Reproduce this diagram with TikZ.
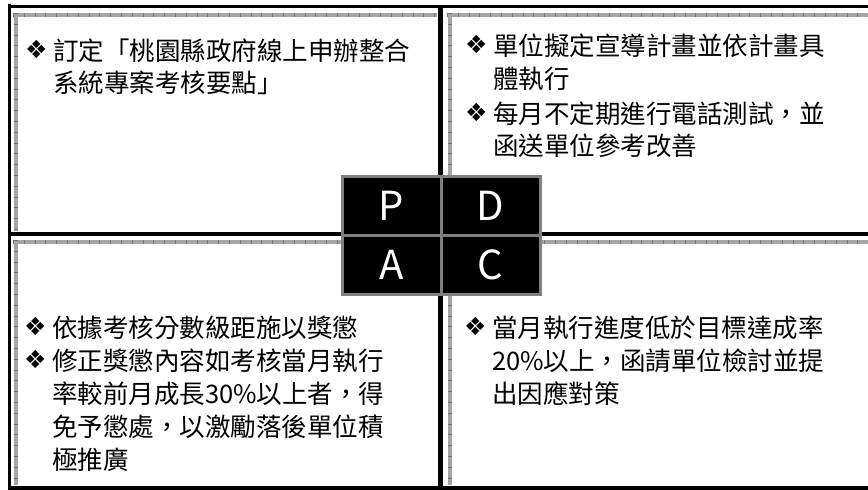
\documentclass[tikz,border=0pt]{standalone}
\usepackage{fontspec}
\setmainfont{Noto Sans CJK TC}
\newfontfamily\symfont{DejaVu Sans}
\definecolor{stripgray}{RGB}{165,165,165}
\definecolor{tickgray}{RGB}{115,115,115}
\definecolor{cellgray}{RGB}{128,128,128}
\tikzset{
  frameline/.style={line width=4.5pt, black},
  strip/.style={line width=4pt, stripgray},
  stripticks/.style={line width=4pt, tickgray, dash pattern=on 0.8pt off 10pt},
  cell/.style={draw=cellgray, line width=3pt, fill=black, minimum width=99pt, minimum height=59pt, inner sep=0pt, text=white, font=\fontsize{40}{40}\selectfont},
  txt/.style={anchor=base west, inner sep=0pt, font=\fontsize{25.5}{32}\selectfont},
  bul/.style={anchor=base west, inner sep=0pt, font=\symfont\fontsize{25}{25}\selectfont}
}
\begin{document}
\begin{tikzpicture}[x=1pt,y=-1pt]
\useasboundingbox (0,0) rectangle (868,490);
% frame coordinates
\coordinate (tlc) at (8,6);
\coordinate (trc) at (868,6);
\coordinate (mlc) at (8,234);
\coordinate (mrc) at (868,234);
\coordinate (blc) at (8,488);
\coordinate (brc) at (868,488);
\coordinate (mt) at (440.5,5);
\coordinate (mb) at (440.5,490);
\coordinate (lt) at (9.5,4);
\coordinate (lb) at (9.5,490);
% gray strips
\foreach \y in {14.5,242}{
  \draw[strip] (13,\y) -- (437,\y);
  \draw[stripticks] (13,\y) -- (437,\y);
  \draw[strip] (447,\y) -- (868,\y);
  \draw[stripticks] (447,\y) -- (868,\y);
}
\foreach \x in {15.5,449.5}{
  \draw[strip] (\x,13) -- (\x,231);
  \draw[stripticks] (\x,13) -- (\x,231);
  \draw[strip] (\x,240) -- (\x,485);
  \draw[stripticks] (\x,240) -- (\x,485);
}
% black frame
\draw[line width=3pt] (tlc) -- (trc);
\draw[frameline] (mlc) -- (mrc);
\draw[frameline] (blc) -- (brc);
\draw[line width=3.5pt] (lt) -- (lb);
\draw[frameline] (mt) -- (mb);
% PDCA
\node[cell] (p) at (391.5,205.5) {P};
\node[cell] (d) at (490.5,205.5) {D};
\node[cell] (a) at (391.5,264.5) {A};
\node[cell] (c) at (490.5,264.5) {C};
% top-left text
\node[bul] (tlb1) at (25,58) {❖};
\node[txt] (tl1) at (53,60) {訂定「桃園縣政府線上申辦整合};
\node[txt] (tl2) at (53,92) {系統專案考核要點」};
% top-right text
\node[bul] (trb1) at (465,53) {❖};
\node[txt] (tr1) at (493,55) {單位擬定宣導計畫並依計畫具};
\node[txt] (tr2) at (493,88) {體執行};
\node[bul] (trb2) at (465,121) {❖};
\node[txt] (tr3) at (493,123) {每月不定期進行電話測試，並};
\node[txt] (tr4) at (493,155) {函送單位參考改善};
% bottom-left text
\node[bul] (blb1) at (24,335) {❖};
\node[txt] (bl1) at (52,337) {依據考核分數級距施以獎懲};
\node[bul] (blb2) at (24,368) {❖};
\node[txt] (bl2) at (52,370) {修正獎懲內容如考核當月執行};
\node[txt] (bl3) at (52,403) {率較前月成長30\%以上者，得};
\node[txt] (bl4) at (52,436) {免予懲處，以激勵落後單位積};
\node[txt] (bl5) at (52,469) {極推廣};
% bottom-right text
\node[bul] (brb1) at (464,335) {❖};
\node[txt] (br1) at (492,337) {當月執行進度低於目標達成率};
\node[txt] (br2) at (492,370) {20\%以上，函請單位檢討並提};
\node[txt] (br3) at (492,403) {出因應對策};
\end{tikzpicture}
\end{document}
